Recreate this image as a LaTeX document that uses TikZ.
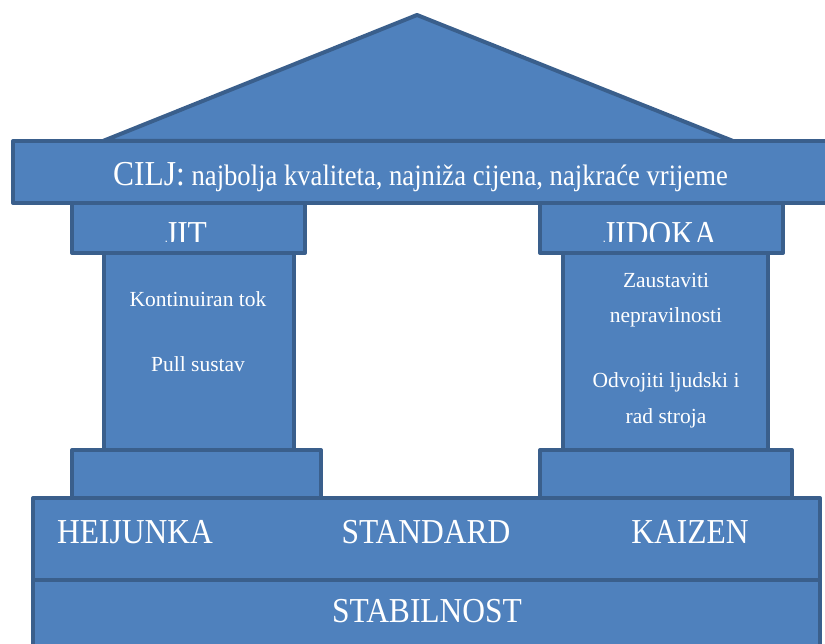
\documentclass[tikz,border=0pt]{standalone}
\usepackage{fontspec}
\setmainfont{Liberation Serif}
\newfontfamily\narrowserif[FakeStretch=0.9]{Liberation Serif}
\definecolor{boxfill}{HTML}{4F81BD}
\definecolor{boxline}{HTML}{3A5F8C}
\tikzset{
  part/.style={fill=boxfill, draw=boxline, line width=4pt, line join=round},
  big/.style={text=white, inner sep=0pt, anchor=base, font=\narrowserif\fontsize{35}{42}\selectfont},
  small/.style={text=white, inner sep=0pt, anchor=base, font=\fontsize{21.5}{26}\selectfont},
}
\begin{document}
\begin{tikzpicture}[x=1pt, y=-1pt]
\useasboundingbox (0,0) rectangle (825,644);
\clip (0,0) rectangle (825,644);
% roof
\draw[part] (103,141) -- (417,15) -- (733,141) -- cycle;
% goal bar
\draw[part] (13,141) rectangle (840,203);
\node[anchor=base west, inner sep=0pt, text=white] (cilj) at (113,186)
  {\narrowserif\fontsize{35}{42}\selectfont CILJ:\fontsize{29.6}{35}\selectfont{} najbolja kvaliteta, najniža cijena, najkraće vrijeme};
% left pillar
\draw[part] (72,203) rectangle (305,253);
\begin{scope}
  \clip (72,203) rectangle (305,242);
  \node[big] (jit) at (186,246) {JIT};
\end{scope}
\draw[part] (104,253) rectangle (294,450);
\node[small] (kt) at (198,307) {Kontinuiran tok};
\node[small] (ps) at (198,371) {Pull sustav};
\draw[part] (72,450) rectangle (321,498);
% right pillar
\draw[part] (540,203) rectangle (783,253);
\begin{scope}
  \clip (540,203) rectangle (783,242);
  \node[big] (jidoka) at (660,246) {JIDOKA};
\end{scope}
\draw[part] (563,253) rectangle (768,450);
\node[small] (z1) at (666,288) {Zaustaviti};
\node[small] (z2) at (666,323) {nepravilnosti};
\node[small] (o1) at (666,388) {Odvojiti ljudski i};
\node[small] (o2) at (666,423) {rad stroja};
\draw[part] (540,450) rectangle (792,498);
% foundation
\draw[part] (33,498) rectangle (820,580);
\node[big] (hei) at (135,543) {HEIJUNKA};
\node[big] (std) at (426,543) {STANDARD};
\node[big] (kai) at (690,543) {KAIZEN};
\draw[part] (33,580) rectangle (820,660);
\node[big] (stab) at (427,622) {STABILNOST};
\end{tikzpicture}
\end{document}
